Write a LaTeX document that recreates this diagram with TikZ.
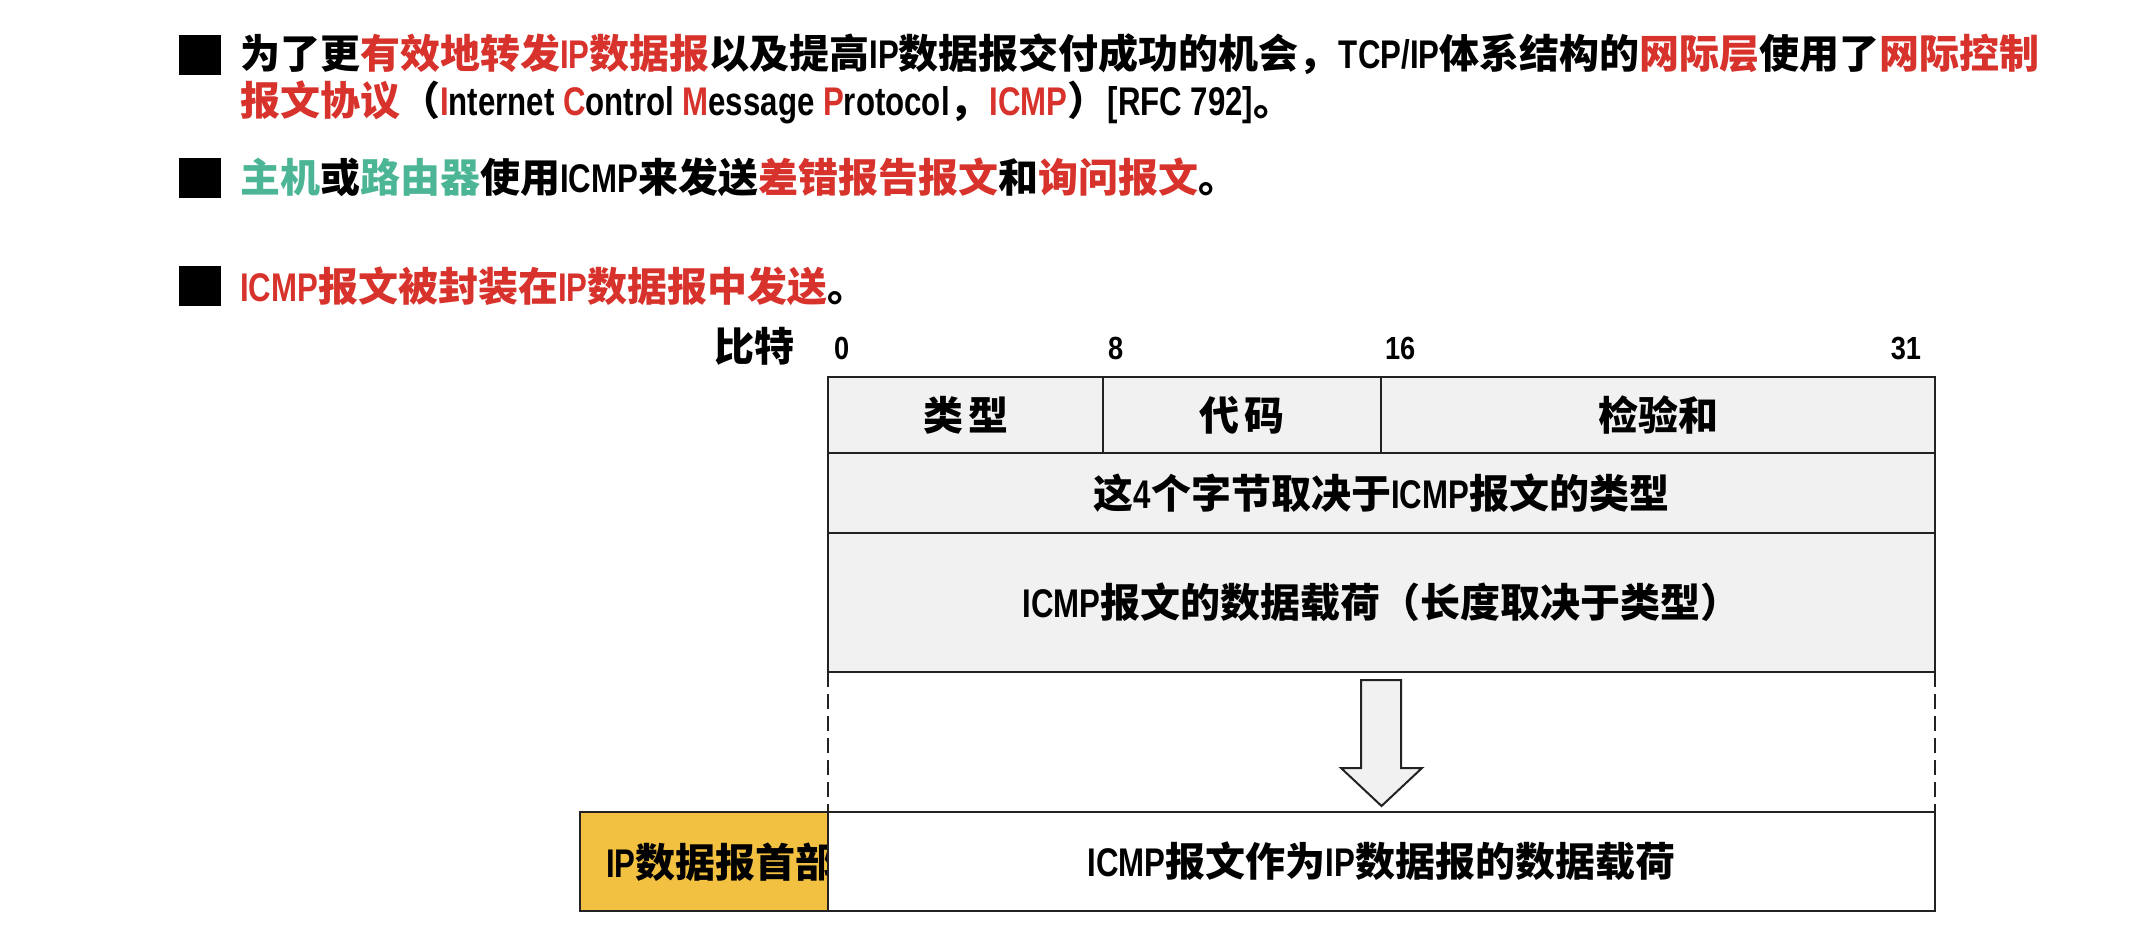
\documentclass[tikz,border=0pt]{standalone}
\usepackage{fontspec}
\setmainfont{Noto Sans CJK SC}
\newfontfamily\latf{Liberation Sans}[FakeStretch=0.78]
\newfontfamily\latn{Liberation Sans}[FakeStretch=0.85]
\definecolor{myred}{HTML}{D7322B}
\definecolor{myteal}{HTML}{4BB596}
\definecolor{cellgray}{HTML}{F1F1F1}
\definecolor{hdryellow}{HTML}{F3C142}
\definecolor{edge}{HTML}{222222}
\newcommand\rd[1]{\textcolor{myred}{#1}}
\newcommand\tl[1]{\textcolor{myteal}{#1}}
\newcommand\lrun[1]{{\latf\bfseries #1}}
\tikzset{
  every node/.style={inner sep=0pt, outer sep=0pt},
  txt/.style={font=\bfseries\fontsize{40}{48}\selectfont, anchor=base west},
  bulletsq/.style={fill=black, minimum width=42pt, minimum height=40pt},
  numlbl/.style={font=\latn\bfseries\fontsize{32}{38}\selectfont},
  cell/.style={draw=edge, line width=2.5pt, fill=cellgray, font=\bfseries\fontsize{40}{48}\selectfont},
  dashline/.style={draw=edge, line width=2.5pt, dash pattern=on 15pt off 7pt},
}
\begin{document}
\begin{tikzpicture}[x=1pt,y=-1pt]
\useasboundingbox (0,0) rectangle (2133,929);
% bullets
\node[bulletsq] (b1) at (200,55) {};
\node[bulletsq] (b2) at (200,178) {};
\node[bulletsq] (b3) at (200,286) {};
% text lines
\node[txt] (l1) at (240,68) {为了更\rd{有效地转发\lrun{IP}数据报}以及提高\lrun{IP}数据报交付成功的机会，\lrun{TCP/IP}体系结构的\rd{网际层}使用了\rd{网际控制}};
\node[txt] (l2) at (240,115) {\rd{报文协议}（\lrun{\rd{I}nternet \rd{C}ontrol \rd{M}essage \rd{P}rotocol}，\rd{\lrun{ICMP}}）\lrun{[RFC 792]}。};
\node[txt] (l3) at (240,192) {\tl{主机}或\tl{路由器}使用\lrun{ICMP}来发送\rd{差错报告报文}和\rd{询问报文}。};
\node[txt] (l4) at (240,301) {\rd{\lrun{ICMP}报文被封装在\lrun{IP}数据报中发送}。};
% bit labels
\node[txt, anchor=base east] (bits) at (794,361) {比特};
\node[numlbl, anchor=base west] (n0) at (834,359) {0};
\node[numlbl, anchor=base west] (n8) at (1108,359) {8};
\node[numlbl, anchor=base west] (n16) at (1385,359) {16};
\node[numlbl, anchor=base east] (n31) at (1921,359) {31};
% ICMP table
\node[cell, minimum width=275pt, minimum height=76pt] (type) at (965.5,415) {类\hspace{5pt}型};
\node[cell, minimum width=278pt, minimum height=76pt] (code) at (1242,415) {代\hspace{5pt}码};
\node[cell, minimum width=554pt, minimum height=76pt] (chk) at (1658,415) {检验和};
\node[cell, minimum width=1107pt, minimum height=80pt] (row2) at (1381.5,493) {这\lrun{4}个字节取决于\lrun{ICMP}报文的类型};
\node[cell, minimum width=1107pt, minimum height=139pt] (row3) at (1381.5,602.5) {\lrun{ICMP}报文的数据载荷（长度取决于类型）};
% IP datagram
\node[draw=edge, line width=2.5pt, fill=hdryellow, minimum width=248pt, minimum height=99pt] (hdr) at (704,861.5) {};
\begin{scope}
  \clip (hdr.south west) rectangle (hdr.north east);
  \node[txt] (hdrtxt) at (606,877) {\lrun{IP}数据报首部};
\end{scope}
\node[cell, fill=white, minimum width=1107pt, minimum height=99pt] (payload) at (1381.5,861.5) {\lrun{ICMP}报文作为\lrun{IP}数据报的数据载荷};
\draw[edge, line width=2.5pt] (hdr.south west) rectangle (hdr.north east);
% dashed sides
\draw[dashline] (row3.south west) -- (payload.north west);
\draw[dashline] (row3.south east) -- (payload.north east);
% block arrow
\draw[draw=edge, line width=2pt, fill=cellgray, line join=miter]
  (1361,680) -- (1401,680) -- (1401,768) -- (1422,768) -- (1381.5,806)
  -- (1341,768) -- (1361,768) -- cycle;
\end{tikzpicture}
\end{document}
